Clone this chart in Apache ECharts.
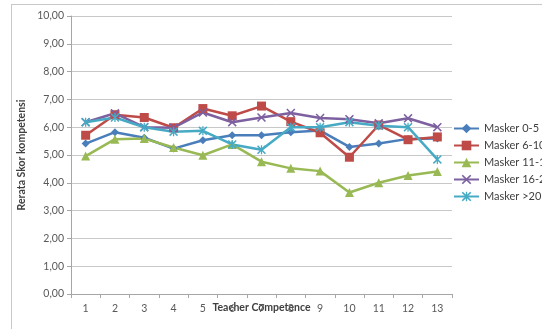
<!DOCTYPE html>
<html>
<head>
<meta charset="utf-8">
<script src="https://cdn.jsdelivr.net/npm/echarts@6/dist/echarts.min.js"></script>
<style>
  html, body { margin: 0; padding: 0; background: #fff; }
  #chart { width: 542px; height: 329px; }
</style>
</head>
<body>
<div id="chart"></div>
<script>
// Teacher competence items 1..13
const categories = ['1','2','3','4','5','6','7','8','9','10','11','12','13'];

// Mean competence score per group of years of service
const masker0_5   = [5.41, 5.82, 5.62, 5.23, 5.53, 5.71, 5.71, 5.82, 5.88, 5.29, 5.41, 5.58, 5.59];
const masker6_10  = [5.71, 6.45, 6.35, 5.98, 6.67, 6.41, 6.76, 6.20, 5.80, 4.92, 6.08, 5.55, 5.65];
const masker11_15 = [4.96, 5.57, 5.59, 5.27, 4.99, 5.38, 4.76, 4.52, 4.42, 3.65, 4.00, 4.26, 4.41];
const masker16_20 = [6.18, 6.50, 6.00, 5.98, 6.53, 6.18, 6.35, 6.51, 6.33, 6.29, 6.14, 6.32, 6.00];
const masker20    = [6.18, 6.35, 6.00, 5.84, 5.87, 5.38, 5.19, 6.00, 6.00, 6.18, 6.05, 6.00, 4.84];

const seriesNames = ['Masker 0-5', 'Masker 6-10', 'Masker 11-15', 'Masker 16-20', 'Masker >20'];
const seriesData = [masker0_5, masker6_10, masker11_15, masker16_20, masker20];
const colors = ['#4a7ebb', '#be4b48', '#98b954', '#7d60a0', '#46aac5'];

const crossPath = 'path://M0,1.2L1.2,0L5,3.8L8.8,0L10,1.2L6.2,5L10,8.8L8.8,10L5,6.2L1.2,10L0,8.8L3.8,5Z';
const starPath = crossPath + 'M4.3,0L5.7,0L5.7,10L4.3,10Z';
const symbols = ['diamond', 'rect', 'triangle', crossPath, starPath];
const symbolSizes = [8, 9, 9, 9, 9];

const font = 'Lato, Open Sans, DejaVu Sans, sans-serif';
const chart = echarts.init(document.getElementById('chart'));

chart.setOption({
  backgroundColor: '#ffffff',
  animation: false,
  color: colors,
  textStyle: { fontFamily: font },
  graphic: [
    { type: 'line', shape: { x1: 11, y1: 4.5, x2: 542, y2: 4.5 }, style: { stroke: '#c8c8c8', lineWidth: 1 } },
    { type: 'line', shape: { x1: 11.5, y1: 4, x2: 11.5, y2: 329 }, style: { stroke: '#c8c8c8', lineWidth: 1 } }
  ],
  grid: { left: 71, right: 90, top: 16, bottom: 35, containLabel: false },
  legend: {
    orient: 'vertical',
    left: 448,
    top: 118,
    itemGap: 6,
    itemWidth: 25,
    itemHeight: 12,
    textStyle: { fontSize: 11, fontFamily: font, color: '#404040' },
    data: seriesNames
  },
  xAxis: {
    type: 'category',
    data: categories,
    boundaryGap: true,
    name: 'Teacher Competence',
    nameLocation: 'middle',
    nameGap: 8,
    nameMoveOverlap: false,
    nameTextStyle: { fontSize: 10.5, fontWeight: 'bold', color: '#404040', fontFamily: font },
    axisLine: { lineStyle: { color: '#a6a6a6' } },
    axisTick: { show: true, length: 4, lineStyle: { color: '#a6a6a6' } },
    axisLabel: { fontSize: 10.5, color: '#595959', margin: 9, fontFamily: font },
    splitLine: { show: false }
  },
  yAxis: {
    type: 'value',
    min: 0,
    max: 10,
    interval: 1,
    name: 'Rerata Skor kompetensi',
    nameLocation: 'middle',
    nameGap: 44,
    nameMoveOverlap: false,
    nameTextStyle: { fontSize: 10.5, fontWeight: 'bold', color: '#404040', fontFamily: font },
    axisLine: { show: true, lineStyle: { color: '#a6a6a6' } },
    axisTick: { show: true, length: 4, lineStyle: { color: '#a6a6a6' } },
    axisLabel: {
      fontSize: 10.5, color: '#595959', margin: 7, fontFamily: font,
      formatter: v => v.toFixed(2).replace('.', ',')
    },
    splitLine: { lineStyle: { color: '#c8c8c8', width: 1 } }
  },
  series: seriesNames.map((n, i) => ({
    name: n,
    type: 'line',
    data: seriesData[i],
    symbol: symbols[i],
    symbolSize: symbolSizes[i],
    showAllSymbol: true,
    lineStyle: { width: 2.5, color: colors[i] },
    itemStyle: { color: colors[i] }
  }))
});
</script>
</body>
</html>
